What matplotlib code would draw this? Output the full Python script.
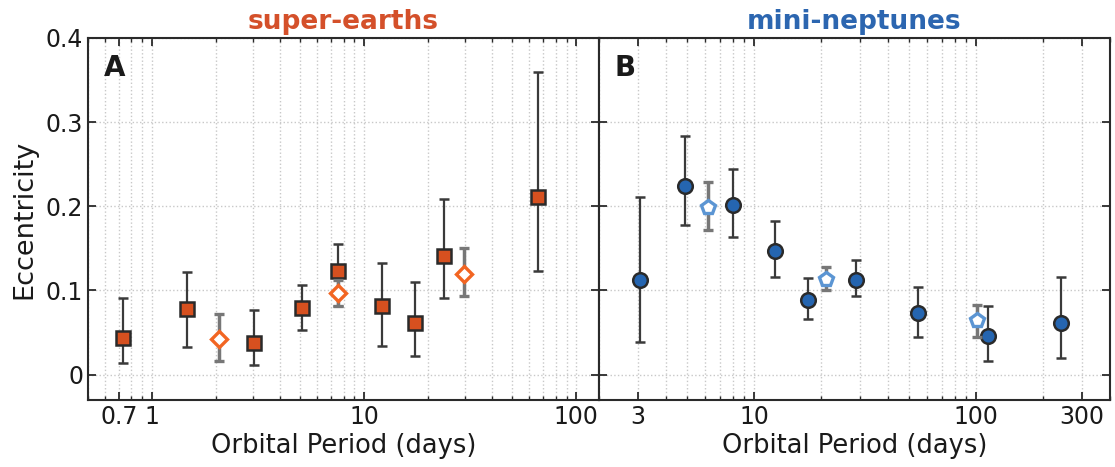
import numpy as np
import matplotlib
matplotlib.use("Agg")
import matplotlib.pyplot as plt
from matplotlib.ticker import FixedLocator, FixedFormatter, LogLocator, NullFormatter

# super-earths (panel A)
se_period = [0.73, 1.47, 3.04, 5.07, 7.55, 12.1, 17.3, 23.9, 66.3]
se_ecc = [0.044, 0.078, 0.038, 0.079, 0.123, 0.082, 0.061, 0.141, 0.211]
se_lo = [0.0139, 0.0325, 0.0119, 0.0535, 0.082, 0.0337, 0.0226, 0.091, 0.1236]
se_hi = [0.091, 0.122, 0.0764, 0.106, 0.1556, 0.1327, 0.1105, 0.209, 0.360]

se2_period = [2.06, 7.55, 29.7]
se2_ecc = [0.043, 0.097, 0.119]
se2_lo = [0.0158, 0.082, 0.093]
se2_hi = [0.0725, 0.112, 0.150]

# mini-neptunes (panel B)
mn_period = [3.07, 4.87, 8.06, 12.45, 17.4, 28.8, 54.5, 113.3, 241.6]
mn_ecc = [0.112, 0.224, 0.201, 0.147, 0.089, 0.113, 0.073, 0.046, 0.061]
mn_lo = [0.0388, 0.178, 0.163, 0.1164, 0.0665, 0.0939, 0.0448, 0.0162, 0.0202]
mn_hi = [0.2115, 0.283, 0.2444, 0.183, 0.1145, 0.136, 0.1038, 0.0812, 0.116]

mn2_period = [6.17, 20.96, 100.7]
mn2_ecc = [0.199, 0.1137, 0.0646]
mn2_lo = [0.1715, 0.1002, 0.0448]
mn2_hi = [0.229, 0.1275, 0.0832]

ORANGE = "#d4502a"
BLUE = "#2c66b0"
DARK = "#2a2a2a"


def err(y, lo, hi):
    y = np.array(y)
    return [y - np.array(lo), np.array(hi) - y]


plt.rcParams['font.family'] = 'DejaVu Sans'
fig, (ax1, ax2) = plt.subplots(1, 2, figsize=(11.15, 4.67), dpi=100, sharey=True)
fig.subplots_adjust(left=0.079, right=0.9955, top=0.919, bottom=0.1435, wspace=0)

ax1.errorbar(se_period, se_ecc, yerr=err(se_ecc, se_lo, se_hi), fmt='s', ms=10.5,
             mfc="#d6501f", mec=DARK, mew=1.8, ecolor="#3a3a3a", elinewidth=1.6,
             capsize=3.5, capthick=1.6, zorder=3)
ax1.errorbar(se2_period, se2_ecc, yerr=err(se2_ecc, se2_lo, se2_hi), fmt='D', ms=8.5,
             mfc="white", mec="#f26522", mew=2.4, ecolor="#777777", elinewidth=2.5,
             capsize=3.5, capthick=2, zorder=4)

ax2.errorbar(mn_period, mn_ecc, yerr=err(mn_ecc, mn_lo, mn_hi), fmt='o', ms=10.5,
             mfc="#2565b0", mec=DARK, mew=1.8, ecolor="#3a3a3a", elinewidth=1.6,
             capsize=3.5, capthick=1.6, zorder=3)
ax2.errorbar(mn2_period, mn2_ecc, yerr=err(mn2_ecc, mn2_lo, mn2_hi), fmt='p', ms=10,
             mfc="white", mec="#5b95d3", mew=2.4, ecolor="#777777", elinewidth=2.5,
             capsize=3.5, capthick=2, zorder=4)

for ax, xlim, ticks, labels, title, col, letter in [
        (ax1, (0.5, 128), [0.7, 1, 10, 100], ["0.7", "1", "10", "100"], "super-earths", ORANGE, "A"),
        (ax2, (2, 400), [3, 10, 100, 300], ["3", "10", "100", "300"], "mini-neptunes", BLUE, "B")]:
    ax.set_xscale("log")
    ax.set_xlim(*xlim)
    ax.set_ylim(-0.03, 0.4)
    ax.xaxis.set_major_locator(FixedLocator(ticks))
    ax.xaxis.set_major_formatter(FixedFormatter(labels))
    ax.xaxis.set_minor_locator(LogLocator(base=10, subs=np.arange(2, 10)))
    ax.xaxis.set_minor_formatter(NullFormatter())
    ax.set_yticks([0, 0.1, 0.2, 0.3, 0.4])
    ax.set_yticklabels(["0", "0.1", "0.2", "0.3", "0.4"])
    ax.tick_params(which="both", direction="in", top=True, right=True, labelsize=17,
                   color=DARK, labelcolor="#1a1a1a")
    ax.tick_params(which="major", length=6, width=1.3)
    ax.tick_params(which="minor", length=3, width=1)
    ax.grid(True, which="both", axis="x", linestyle=":", color="#c8c8c8", linewidth=1)
    ax.grid(True, which="major", axis="y", linestyle=":", color="#c8c8c8", linewidth=1)
    ax.set_axisbelow(True)
    for s in ax.spines.values():
        s.set_color(DARK)
        s.set_linewidth(1.5)
    ax.set_xlabel("Orbital Period (days)", fontsize=18.5, color="#1a1a1a", labelpad=3)
    ax.set_title(title, fontsize=19, fontweight="bold", color=col, pad=6)
    ax.text(0.03, 0.955, letter, transform=ax.transAxes, fontsize=20,
            fontweight="heavy", va="top", color="#1a1a1a")

ax1.set_ylabel("Eccentricity", fontsize=19.5, color="#1a1a1a", labelpad=6)
ax2.tick_params(labelleft=False)

fig.savefig("out.png", dpi=100)
